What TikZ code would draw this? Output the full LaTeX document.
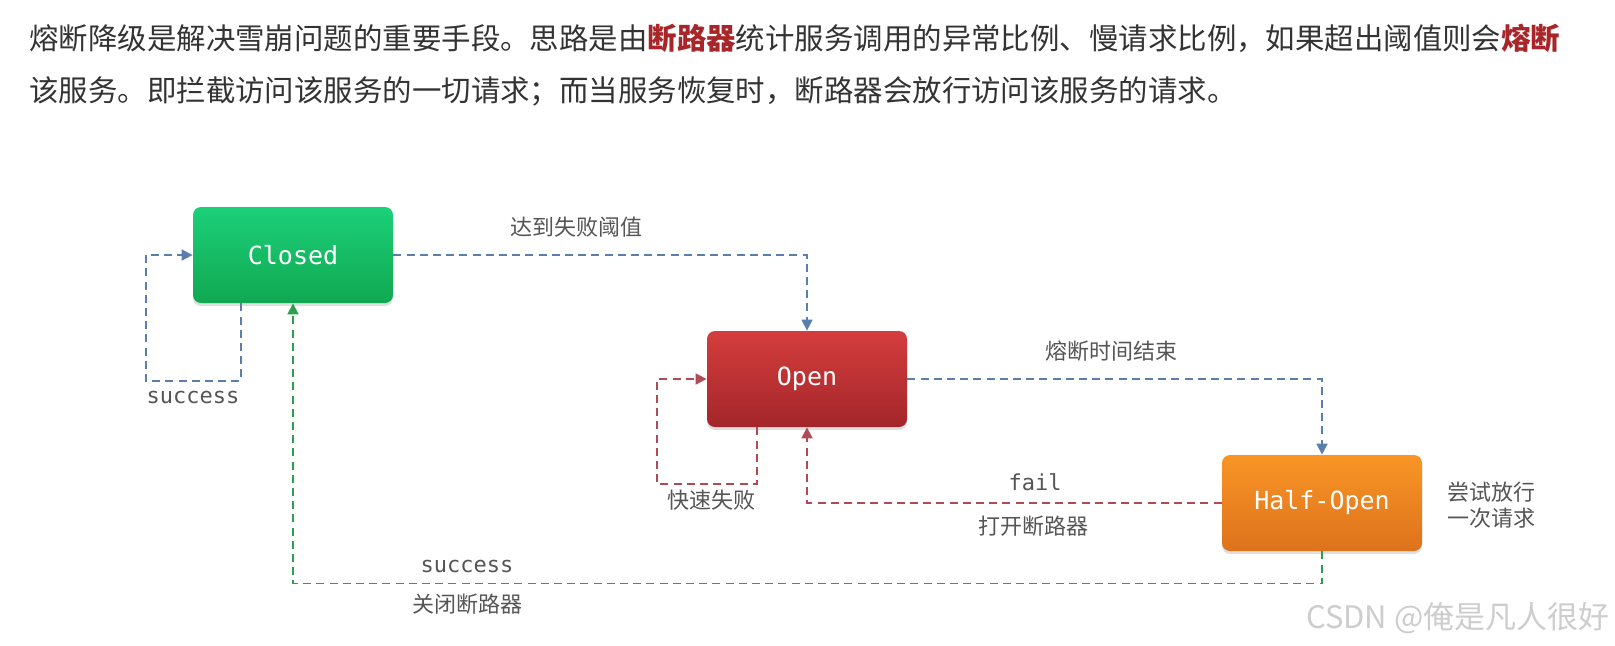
\documentclass[tikz,border=0pt]{standalone}
\usepackage{fontspec}
\setmainfont{Noto Sans CJK SC}
\newfontfamily\monof{DejaVu Sans Mono}
\usetikzlibrary{arrows.meta,shadows}
\definecolor{txt}{HTML}{333333}
\definecolor{lbl}{HTML}{555555}
\definecolor{hl}{HTML}{A8262A}
\definecolor{lblue}{HTML}{5A7FAE}
\definecolor{lred}{HTML}{B24A55}
\definecolor{lgreen}{HTML}{2BA14F}
\definecolor{gtop}{HTML}{1CD07A}
\definecolor{gbot}{HTML}{10A850}
\definecolor{rtop}{HTML}{D53D3D}
\definecolor{rbot}{HTML}{A3262A}
\definecolor{otop}{HTML}{F99526}
\definecolor{obot}{HTML}{DD721C}
\definecolor{wm}{HTML}{CDCDCD}
\tikzset{
  statebox/.style={rounded corners=4pt, minimum width=100pt, minimum height=48pt,
    text=white, font=\monof\fontsize{12.5}{14}\selectfont,
    drop shadow={shadow xshift=0pt, shadow yshift=-1.5pt, opacity=0.25}},
  conn/.style={line width=0.9pt, dash pattern=on 4pt off 2.6pt,
    -{Triangle[length=5.5pt,width=5.5pt]}},
  cn/.style={font=\fontsize{11}{13}\selectfont, text=lbl, inner sep=0pt},
  mn/.style={font=\monof\fontsize{11}{13}\selectfont, text=lbl, inner sep=0pt},
  para/.style={font=\fontsize{14.72}{17}\selectfont, text=txt, inner sep=0pt, anchor=west}
}
\begin{document}
\begin{tikzpicture}[x=0.5pt,y=-0.5pt]
\useasboundingbox (0,0) rectangle (1615,645);
% paragraph
\node[para] (p1) at (29,38) {熔断降级是解决雪崩问题的重要手段。思路是由{\bfseries\color{hl}断路器}统计服务调用的异常比例、慢请求比例，如果超出阈值则会{\bfseries\color{hl}熔断}};
\node[para] (p2) at (29,91) {该服务。即拦截访问该服务的一切请求；而当服务恢复时，断路器会放行访问该服务的请求。};
% states
\node[statebox, top color=gtop, bottom color=gbot] (closed) at (293,255) {Closed};
\node[statebox, top color=rtop, bottom color=rbot] (open) at (807,379) {Open};
\node[statebox, top color=otop, bottom color=obot] (half) at (1322,503) {Half-Open};
% loop helper coordinates
\coordinate (cl1) at (241,381);
\coordinate (cl2) at (146,381);
\coordinate (ol1) at (757,484);
\coordinate (ol2) at (657,484);
% connectors
\draw[conn, lblue] (closed.east) -| (open.north);
\draw[conn, lblue] (open.east) -| (half.north);
\draw[conn, lred] (half.west) -| (open.south);
\draw[conn, lgreen] (half.south) -- ++(0,32) -| (closed.south);
\draw[conn, lblue] (closed.south -| cl1) -- (cl1) -- (cl2) |- (closed.west);
\draw[conn, lred] (open.south -| ol1) -- (ol1) -- (ol2) |- (open.west);
% labels
\node[cn] (l1) at (576,227) {达到失败阈值};
\node[mn] (l2) at (193,397) {success};
\node[cn] (l3) at (711,500) {快速失败};
\node[cn] (l4) at (1111,351) {熔断时间结束};
\node[mn] (l5) at (1035,482) {fail};
\node[cn] (l6) at (1033,526) {打开断路器};
\node[cn, align=left, font=\fontsize{11}{13.2}\selectfont] (l7) at (1491,505) {尝试放行\\一次请求};
\node[mn] (l8) at (467,566) {success};
\node[cn] (l9) at (467,604) {关闭断路器};
% watermark
\node[inner sep=0pt, anchor=east, text=wm, font=\fontsize{15.5}{18}\selectfont] (wmk) at (1610,618) {CSDN @俺是凡人很好};
\end{tikzpicture}
\end{document}
